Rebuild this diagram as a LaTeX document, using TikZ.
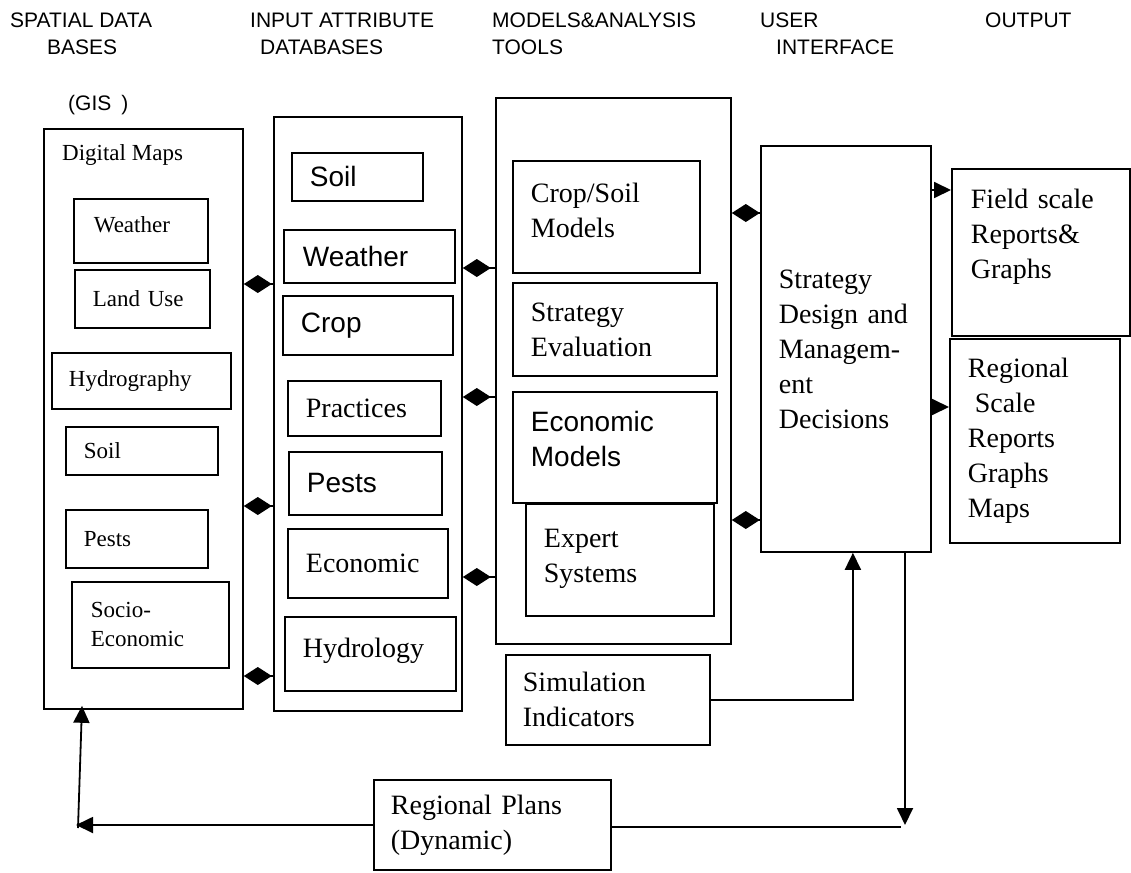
\documentclass[tikz,border=0pt]{standalone}
\usepackage{fontspec}
\setmainfont{Liberation Serif}
\setsansfont{Liberation Sans}
\usetikzlibrary{arrows.meta,positioning}

\tikzset{
  box/.style={draw, line width=1.8pt, anchor=north west, align=left, inner ysep=0pt},
  big/.style={font=\fontsize{28}{35}\selectfont},
  small/.style={font=\fontsize{23}{29}\selectfont},
  bigsf/.style={font=\sffamily\fontsize{28}{35}\selectfont},
  hdr/.style={anchor=north west, align=left, inner sep=0pt, font=\sffamily\fontsize{21}{27}\selectfont},
  dia/.style={line width=1.8pt, {Diamond[length=28pt,width=18pt]}-},
  arr/.style={line width=1.8pt, -{Triangle[length=17pt,width=16pt]}},
}

\begin{document}
\begin{tikzpicture}[x=1pt, y=-1pt]
\useasboundingbox (0,0) rectangle (1131,872);

% column headings
\node[hdr] (h1) at (10,13) {SPATIAL DATA\\\hspace{37pt}BASES};
\node[hdr] (h2) at (250,13) {INPUT ATTRIBUTE\\\hspace{10pt}DATABASES};
\node[hdr] (h3) at (492,13) {MODELS\&ANALYSIS\\TOOLS};
\node[hdr] (h4) at (760,13) {USER\\\hspace{16pt}INTERFACE};
\node[hdr] (h5) at (985,13) {OUTPUT};
\node[hdr] (gisl) at (68,95) {(GIS\hspace{10pt})};

% spatial data bases
\node[box, minimum width=199, minimum height=580] (gis) at (43,128) {};
\node[small, anchor=west, inner sep=0pt] (dmaps) at (62,155) {Digital Maps};
\node[box, small, minimum height=64, text width=94, inner xsep=20] (gweather) at (73,198) {Weather\\[-17pt]\mbox{}};
\node[box, small, minimum height=58, text width=99, inner xsep=18] (gland) at (74,269) {Land Use};
\node[box, small, minimum height=56, text width=145, inner xsep=17] (ghydro) at (51,352) {Hydrography};
\node[box, small, minimum height=48, text width=116, inner xsep=18] (gsoil) at (65,426) {Soil};
\node[box, small, minimum height=58, text width=106, inner xsep=18] (gpests) at (65,509) {Pests};
\node[box, small, minimum height=86, text width=119, inner xsep=19] (gsocio) at (71,581) {Socio-\\Economic};

% input attribute databases
\node[box, minimum width=188, minimum height=594] (inp) at (273,116) {};
\node[box, bigsf, minimum height=48, text width=95, inner xsep=18] (isoil) at (291,152) {Soil};
\node[box, bigsf, minimum height=53, text width=133, inner xsep=19] (iweather) at (283,229) {Weather};
\node[box, bigsf, minimum height=59, text width=134, inner xsep=18] (icrop) at (282,295) {Crop};
\node[box, big, minimum height=55, text width=117, inner xsep=18] (iprac) at (287,380) {Practices};
\node[box, bigsf, minimum height=63, text width=117, inner xsep=18] (ipests) at (288,451) {Pests};
\node[box, big, minimum height=69, text width=124, inner xsep=18] (iecon) at (287,528) {Economic};
\node[box, big, minimum height=74, text width=135, inner xsep=18] (ihydro) at (284,616) {Hydrology\\[-23pt]\mbox{}};

% models and analysis tools
\node[box, minimum width=235, minimum height=546] (mod) at (495,97) {};
\node[box, big, minimum height=112, text width=151, inner xsep=18] (mcrop) at (512,160) {Crop/Soil\\Models\\[-21pt]\mbox{}};
\node[box, big, minimum height=93, text width=168, inner xsep=18] (mstrat) at (512,282) {Strategy\\Evaluation};
\node[box, bigsf, minimum height=111, text width=168, inner xsep=18] (mecon) at (512,391) {Economic\\Models\\[-17pt]\mbox{}};
\node[box, big, minimum height=112, text width=152, inner xsep=18] (mexp) at (525,503) {Expert\\Systems\\[-27pt]\mbox{}};

% user interface
\node[box, big, minimum height=406, text width=134, inner xsep=18] (ui) at (760,145) {Strategy\\Design and\\Managem-\\ent\\Decisions};

% output
\node[box, big, minimum height=167, text width=140, inner xsep=19] (field) at (951,168) {Field scale\\Reports\&\\Graphs\\[3pt]\mbox{}};
\node[box, big, minimum height=204, text width=134, inner xsep=18] (regional) at (949,338) {Regional\\\hspace{7pt}Scale\\Reports\\Graphs\\Maps};

% feedback boxes
\node[box, big, minimum height=90, text width=170, inner xsep=17] (sim) at (505,654) {Simulation\\Indicators};
\node[box, big, minimum height=90, text width=203, inner xsep=17] (plans) at (373,779) {Regional Plans\\(Dynamic)};

% links between columns
\draw[dia] (gis.east |- 0,284) -- (inp.west |- 0,284);
\draw[dia] (gis.east |- 0,506) -- (inp.west |- 0,506);
\draw[dia] (gis.east |- 0,676) -- (inp.west |- 0,676);
\draw[dia] (inp.east |- 0,268) -- (mod.west |- 0,268);
\draw[dia] (inp.east |- 0,397) -- (mod.west |- 0,397);
\draw[dia] (inp.east |- 0,577) -- (mod.west |- 0,577);
\draw[dia] (mod.east |- 0,213) -- (ui.west |- 0,213);
\draw[dia] (mod.east |- 0,520) -- (ui.west |- 0,520);
\draw[arr] (ui.east |- 0,190) -- (field.west |- 0,190);
\draw[arr] (ui.east |- 0,407) -- (regional.west |- 0,407);

% feedback loop
\coordinate (rcorner) at (905,825);
\coordinate (lcorner) at (76,825);
\draw[arr] (sim.east) -| ([xshift=7pt]ui.south);
\draw[arr] (ui.south -| rcorner) -- (rcorner);
\draw[line width=1.8pt] (plans.east |- 0,827) -- ([xshift=-4pt,yshift=-2pt]rcorner);
\draw[arr] (plans.west |- lcorner) -- (lcorner);
\draw[arr] ([xshift=2pt,yshift=-3pt]lcorner) -- ([xshift=6pt,yshift=4pt]gis.south -| lcorner);
\end{tikzpicture}
\end{document}
